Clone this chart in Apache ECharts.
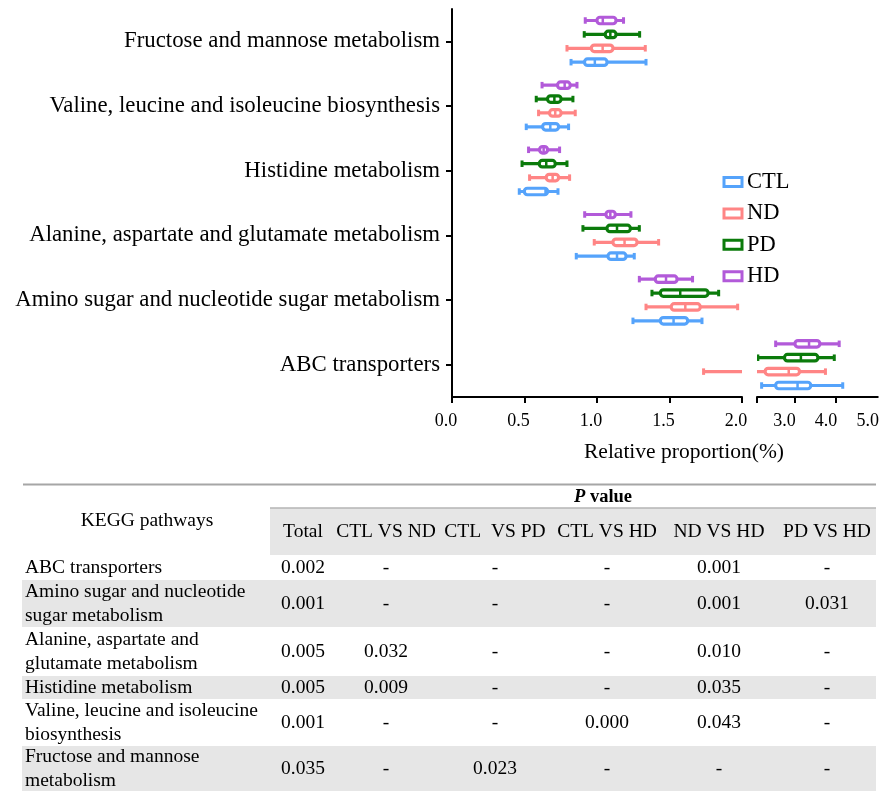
<!DOCTYPE html>
<html>
<head>
<meta charset="utf-8">
<script src="https://cdn.jsdelivr.net/npm/echarts@6/dist/echarts.min.js"></script>
<style>
html,body{margin:0;padding:0;background:#fff;}
#chart{width:882px;height:791px;}
</style>
</head>
<body>
<div id="chart"></div>
<script>
// ---------- data ----------
const categories = [
  'ABC transporters',
  'Amino sugar and nucleotide sugar metabolism',
  'Alanine, aspartate and glutamate metabolism',
  'Histidine metabolism',
  'Valine, leucine and isoleucine biosynthesis',
  'Fructose and mannose metabolism'
];
const seriesNames = ['CTL', 'ND', 'PD', 'HD'];
// [min, Q1, median, Q3, max] per category (bottom to top)
const ctlValues = [
  [2.211, 2.548, 3.074, 3.390, 4.159],
  [1.248, 1.437, 1.528, 1.625, 1.724],
  [0.857, 1.076, 1.138, 1.200, 1.257],
  [0.464, 0.499, 0.645, 0.659, 0.731],
  [0.512, 0.625, 0.678, 0.735, 0.804],
  [0.821, 0.914, 0.985, 1.069, 1.338]
];
const ndValues = [
  [1.735, 2.296, 2.862, 3.120, 3.744],
  [1.338, 1.512, 1.609, 1.712, 1.970],
  [0.981, 1.110, 1.190, 1.276, 1.425],
  [0.535, 0.650, 0.694, 0.735, 0.811],
  [0.597, 0.673, 0.712, 0.752, 0.850],
  [0.793, 0.961, 1.039, 1.110, 1.333]
];
const pdValues = [
  [2.120, 2.760, 3.154, 3.562, 3.956],
  [1.379, 1.437, 1.574, 1.766, 1.839],
  [0.903, 1.069, 1.138, 1.230, 1.292],
  [0.483, 0.602, 0.650, 0.712, 0.793],
  [0.581, 0.659, 0.706, 0.752, 0.834],
  [0.912, 1.057, 1.092, 1.131, 1.294]
];
const hdValues = [
  [2.548, 3.012, 3.350, 3.609, 4.074],
  [1.292, 1.402, 1.476, 1.552, 1.659],
  [0.915, 1.062, 1.092, 1.126, 1.234],
  [0.528, 0.604, 0.632, 0.659, 0.742],
  [0.621, 0.728, 0.777, 0.815, 0.862],
  [0.919, 1.000, 1.040, 1.131, 1.183]
];
const leftTicks = [0, 0.5, 1.0, 1.5, 2.0];
const rightTickLabels = [3.0, 4.0, 5.0];
const xAxisName = 'Relative proportion(%)';

// table
const tableHeadTitle = 'KEGG pathways';
const tableColumns = ['Total', 'CTL VS ND', 'CTL  VS PD', 'CTL VS HD', 'ND VS HD', 'PD VS HD'];
const tableRows = [
  'ABC transporters',
  'Amino sugar and nucleotide\nsugar metabolism',
  'Alanine, aspartate and\nglutamate metabolism',
  'Histidine metabolism',
  'Valine, leucine and isoleucine\nbiosynthesis',
  'Fructose and mannose\nmetabolism'
];
const pTotal = ['0.002', '0.001', '0.005', '0.005', '0.001', '0.035'];
const pCtlNd = ['-', '-', '0.032', '0.009', '-', '-'];
const pCtlPd = ['-', '-', '-', '-', '-', '0.023'];
const pCtlHd = ['-', '-', '-', '-', '0.000', '-'];
const pNdHd = ['0.001', '0.001', '0.010', '0.035', '0.043', '-'];
const pPdHd = ['-', '0.031', '-', '-', '-', '-'];

// ---------- styles ----------
const FONT = '"Liberation Serif", "Times New Roman", serif';
const colorMap = { CTL: '#55a3fb', ND: '#ff8585', PD: '#0b7b0b', HD: '#b25ad9' };
const slotMap = { CTL: 1.5, ND: 0.5, PD: -0.5, HD: -1.5 };
const valuesMap = { CTL: ctlValues, ND: ndValues, PD: pdValues, HD: hdValues };
const TFS = 19.5;

function makeRender(slot) {
  return function (params, api) {
    const cat = api.value(0);
    const band = api.size([0, 1])[1];
    const off = slot * band * 0.215;
    const pts = [1, 2, 3, 4, 5].map(d => api.coord([api.value(d), cat]));
    const y = pts[0][1] + off;
    const color = api.visual('color');
    const bh = 6.5, capH = 6.5;
    return {
      type: 'group',
      children: [
        { type: 'line', shape: { x1: pts[0][0], y1: y, x2: pts[4][0], y2: y }, style: { stroke: color, lineWidth: 3.2 } },
        { type: 'line', shape: { x1: pts[0][0], y1: y - capH / 2, x2: pts[0][0], y2: y + capH / 2 }, style: { stroke: color, lineWidth: 3 } },
        { type: 'line', shape: { x1: pts[4][0], y1: y - capH / 2, x2: pts[4][0], y2: y + capH / 2 }, style: { stroke: color, lineWidth: 3 } },
        { type: 'rect', shape: { x: pts[1][0], y: y - bh / 2, width: pts[3][0] - pts[1][0], height: bh, r: 3 },
          style: { fill: '#fff', stroke: color, lineWidth: 3.2 } },
        { type: 'line', shape: { x1: pts[2][0], y1: y - bh / 2, x2: pts[2][0], y2: y + bh / 2 }, style: { stroke: color, lineWidth: 2.5 } }
      ]
    };
  };
}

const series = [];
[0, 1].forEach(g => {
  seriesNames.forEach(name => {
    series.push({
      type: 'custom',
      name: name,
      xAxisIndex: g,
      yAxisIndex: g,
      clip: true,
      itemStyle: { color: colorMap[name] },
      encode: { x: [1, 2, 3, 4, 5], y: 0 },
      renderItem: makeRender(slotMap[name]),
      data: valuesMap[name].map((d, i) => [i].concat(d))
    });
  });
});

const axisLineStyle = { color: '#000', width: 2 };
const xLabel = { fontSize: 18, fontFamily: FONT, color: '#000', margin: 15 };

// ---------- table graphics ----------
const graphics = [];
graphics.push({ type: 'text', x: 684, y: 452, style: { text: xAxisName, fontSize: 21.5, fontFamily: FONT, fill: '#000', align: 'center', verticalAlign: 'middle' } });

const colCenters = [303, 386, 495, 607, 719, 827];
const rowBounds = [[556, 580], [580, 627], [627, 676], [676, 699], [699, 746], [746, 791]];
const colData = [pTotal, pCtlNd, pCtlPd, pCtlHd, pNdHd, pPdHd];

graphics.push({ type: 'rect', shape: { x: 270, y: 508, width: 606, height: 47 }, style: { fill: '#e6e6e6' }, z: 0 });
graphics.push({ type: 'line', shape: { x1: 270, y1: 508, x2: 876, y2: 508 }, style: { stroke: '#b4b4b4', lineWidth: 1.5 } });
graphics.push({ type: 'line', shape: { x1: 23, y1: 484.5, x2: 876, y2: 484.5 }, style: { stroke: '#a6a6a6', lineWidth: 2 } });
rowBounds.forEach((b, i) => {
  if (i % 2 === 1) {
    graphics.push({ type: 'rect', shape: { x: 22, y: b[0], width: 854, height: b[1] - b[0] }, style: { fill: '#e6e6e6' }, z: 0 });
  }
});
graphics.push({ type: 'text', x: 147, y: 521, style: { text: tableHeadTitle, fontSize: TFS, fontFamily: FONT, fill: '#000', align: 'center', verticalAlign: 'middle' } });
graphics.push({ type: 'text', x: 603, y: 497, style: { text: '{i|P} value', fontSize: 18.5, fontWeight: 'bold', fontFamily: FONT, fill: '#000', align: 'center', verticalAlign: 'middle',
  rich: { i: { fontStyle: 'italic', fontWeight: 'bold', fontSize: 18.5, fontFamily: FONT } } } });
tableColumns.forEach((c, j) => {
  graphics.push({ type: 'text', x: colCenters[j], y: 532, style: { text: c, fontSize: TFS, fontFamily: FONT, fill: '#000', align: 'center', verticalAlign: 'middle' } });
});
tableRows.forEach((r, i) => {
  const cy = (rowBounds[i][0] + rowBounds[i][1]) / 2;
  graphics.push({ type: 'text', x: 25, y: cy, style: { text: r, fontSize: TFS, lineHeight: 24, fontFamily: FONT, fill: '#000', align: 'left', verticalAlign: 'middle' } });
  colData.forEach((col, j) => {
    graphics.push({ type: 'text', x: colCenters[j], y: cy, style: { text: col[i], fontSize: TFS, fontFamily: FONT, fill: '#000', align: 'center', verticalAlign: 'middle' } });
  });
});

const option = {
  backgroundColor: '#fff',
  animation: false,
  grid: [
    { left: 452, top: 9, width: 290, height: 388 },
    { left: 757, top: 9, width: 123, height: 388 }
  ],
  xAxis: [
    { gridIndex: 0, type: 'value', min: leftTicks[0], max: leftTicks[leftTicks.length - 1], interval: 0.5,
      axisLine: { show: true, lineStyle: axisLineStyle },
      axisTick: { show: true, length: 6, lineStyle: axisLineStyle },
      axisLabel: Object.assign({}, xLabel, { formatter: v => v.toFixed(1), padding: [0, 12, 0, 0] }),
      splitLine: { show: false } },
    { gridIndex: 1, type: 'value', min: 2.1, max: 5.0,
      axisLine: { show: true, lineStyle: axisLineStyle },
      axisTick: { show: true, length: 6, lineStyle: axisLineStyle, customValues: [2.1, 3, 4] },
      axisLabel: Object.assign({}, xLabel, { customValues: rightTickLabels, formatter: v => Number(v).toFixed(1), padding: [0, 20, 0, 0] }),
      splitLine: { show: false } }
  ],
  yAxis: [
    { gridIndex: 0, type: 'category', data: categories,
      axisLine: { show: true, lineStyle: axisLineStyle },
      axisTick: { show: true, alignWithLabel: true, length: 6, lineStyle: axisLineStyle },
      axisLabel: { fontSize: 22.8, fontFamily: FONT, color: '#000', margin: 12 },
      splitLine: { show: false } },
    { gridIndex: 1, type: 'category', data: categories, show: false }
  ],
  legend: {
    orient: 'vertical', left: 717.5, top: 165.5, icon: 'rect', padding: 5,
    itemWidth: 18, itemHeight: 9, itemGap: 8.4, selectedMode: false,
    textStyle: { fontSize: 22.5, fontFamily: FONT, color: '#000', lineHeight: 23 },
    data: seriesNames.map(n => ({ name: n, itemStyle: { color: '#fff', borderColor: colorMap[n], borderWidth: 3 } }))
  },
  series: series,
  graphic: { elements: graphics }
};

const chart = echarts.init(document.getElementById('chart'), null, { renderer: 'canvas' });
chart.setOption(option);
</script>
</body>
</html>
